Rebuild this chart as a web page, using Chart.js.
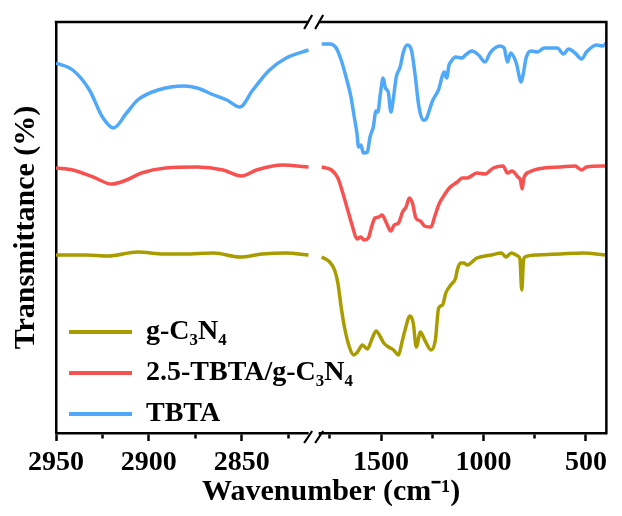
<!DOCTYPE html>
<html><head><meta charset="utf-8">
<script src="https://cdn.jsdelivr.net/npm/chart.js@4.4.1/dist/chart.umd.min.js"></script>
<style>html,body{margin:0;padding:0;background:#fff}</style>
</head><body>
<canvas id="c" width="622" height="516"></canvas>
<script>
// ---- series names / colours
const seriesNames = ['g-C\u2083N\u2084', '2.5-TBTA/g-C\u2083N\u2084', 'TBTA'];
const seriesColors = ['#a89c00', '#f7524f', '#4fa8f8'];

// ---- left segment (2950-2808 cm-1)
const oliveLeftX = [2950, 2934, 2922, 2906, 2892, 2881, 2865, 2851, 2839, 2826, 2814];
const oliveLeftY = [178, 178, 177, 181, 179, 179, 180, 176, 179, 180, 178];
const redLeftX = [2950, 2941, 2930, 2920, 2912, 2904, 2891, 2874, 2860, 2850, 2842, 2828, 2814];
const redLeftY = [265, 263, 256, 249, 253, 260, 265, 266, 263, 257, 263, 268, 266];
const blueLeftX = [2950, 2941, 2932, 2925, 2919, 2912, 2906, 2895, 2881, 2874, 2865, 2858, 2851, 2844, 2835, 2826, 2814];
const blueLeftY = [370, 363, 343, 316, 305, 320, 333, 343, 347, 345, 338, 333, 326, 343, 363, 375, 383];

// ---- right segment (1800-400 cm-1)
const oliveRightX = [1790,1751,1727,1711,1695,1679,1655,1634,1615,1591,1567,1543,1524,1503,1487,1463,1439,1415,1399,1383,1359,1343,1328,1308,1287,1256,1235,1219,1200,1184,1160,1136,1128,1112,1096,1080,1032,960,912,891,864,832,822,813,805,797,736,625,513,401];
const oliveRightY = [176,171,163,150,126,106,86,78,81,88,84,95,102,96,90,86,83,78,90,103,117,110,86,101,93,83,93,125,128,140,148,155,163,170,170,168,175,178,180,176,180,177,174,143,172,176,178,179,180,178];
const redRightX = [1790,1742,1711,1687,1663,1639,1618,1599,1583,1562,1548,1530,1511,1495,1474,1452,1436,1415,1395,1378,1362,1347,1330,1308,1287,1256,1239,1215,1191,1167,1128,1104,1080,1032,992,952,904,883,861,832,820,811,803,776,705,625,553,521,497,401];
const redRightY = [266,263,255,240,223,206,194,196,193,195,205,215,216,218,210,202,208,210,221,226,235,230,215,212,207,206,216,230,238,245,251,255,255,260,259,265,267,260,262,256,253,244,255,261,265,266,267,263,266,267];
const blueRightX = [1790,1751,1719,1695,1671,1647,1631,1618,1610,1599,1586,1567,1554,1538,1525,1516,1503,1490,1479,1465,1452,1439,1426,1407,1391,1372,1352,1335,1315,1295,1287,1247,1220,1191,1180,1168,1160,1136,1104,1088,1056,1024,992,968,920,899,883,867,840,816,805,792,768,736,704,640,609,585,553,521,497,449,417,400];
const blueRightY = [389,389,385,373,356,336,316,300,286,288,280,281,296,306,322,321,340,355,345,341,321,336,356,366,381,388,383,360,326,313,313,333,343,361,355,368,371,376,375,378,382,378,371,380,387,385,371,380,370,351,360,375,382,381,385,385,379,384,380,374,381,388,387,390];

// ---- axes
const leftRange = [2808, 2950];
const rightRange = [400, 1800];
const leftTicks = [2825, 2850, 2875, 2900, 2925, 2950];
const leftLabels = [2850, 2900, 2950];
const rightTicks = [500, 750, 1000, 1250, 1500, 1750];
const rightLabels = [500, 1000, 1500];
const xTitle = 'Wavenumber (cm\u207B\u00B9)';
const yTitle = 'Transmittance (%)';

const FONT = "'Liberation Serif','Times New Roman',serif";
Chart.defaults.font.family = FONT;
Chart.defaults.font.weight = 'bold';
Chart.defaults.color = '#000';

function pts(xs, ys) { return xs.map((x, i) => ({x: x, y: ys[i]})); }

const leftData = [[oliveLeftX, oliveLeftY], [redLeftX, redLeftY], [blueLeftX, blueLeftY]];
const rightData = [[oliveRightX, oliveRightY], [redRightX, redRightY], [blueRightX, blueRightY]];

function makeSet(i, pair, axis) {
  return {
    label: seriesNames[i], data: pts(pair[0], pair[1]), xAxisID: axis, yAxisID: 'y',
    borderColor: seriesColors[i], backgroundColor: seriesColors[i],
    borderWidth: 3.5, pointRadius: 0, cubicInterpolationMode: 'monotone', fill: false
  };
}
const datasets = leftData.map((p, i) => makeSet(i, p, 'xL')).concat(rightData.map((p, i) => makeSet(i, p, 'xR')));

function xAxis(range, ticks, labels, weight) {
  return {
    type: 'linear', position: 'bottom', stack: 'x', stackWeight: weight, reverse: true,
    min: range[0], max: range[1],
    afterBuildTicks: s => { s.ticks = ticks.slice().reverse().map(v => ({value: v})); },
    afterFit: s => { s.height = 37; },
    ticks: { autoSkip: false, maxRotation: 0, padding: 5, font: {size: 28, weight: 'bold'}, color: '#000',
      callback: v => labels.includes(v) ? String(v) : '' },
    grid: { drawOnChartArea: false, drawTicks: true, tickLength: 8, tickWidth: 2.5, tickColor: '#000',
      tickBorderDash: c => (c.tick && labels.includes(c.tick.value)) ? [] : [4, 100] },
    border: { color: '#000', width: 2.5 }
  };
}

// place the in-plot legend at the bottom-left of the plot area
const legendPlace = {
  id: 'legendPlace',
  beforeDraw(chart) {
    const lg = chart.legend, a = chart.chartArea;
    if (lg) { lg.left = a.left; lg.top = a.top; lg.bottom = a.bottom + 8; }
  }
};

const framePlugin = {
  id: 'frame',
  afterDraw(chart) {
    const ctx = chart.ctx, a = chart.chartArea, xL = chart.scales.xL;
    ctx.save();
    ctx.strokeStyle = '#000'; ctx.lineWidth = 2.5;
    ctx.beginPath();
    ctx.moveTo(a.left - 1.25, a.top); ctx.lineTo(a.right + 1.25, a.top);
    ctx.moveTo(a.right, a.top); ctx.lineTo(a.right, a.bottom + 1.25);
    ctx.stroke();
    const bx = xL.right - 6;
    ctx.fillStyle = '#fff';
    ctx.fillRect(bx - 5, a.top - 3, 10, 6);
    ctx.fillRect(bx - 5, a.bottom - 3, 10, 6);
    ctx.lineWidth = 2.2;
    ctx.beginPath();
    [bx - 5.5, bx + 5.5].forEach(x => {
      ctx.moveTo(x - 4, a.top + 7); ctx.lineTo(x + 4, a.top - 7);
      ctx.moveTo(x - 4, a.bottom + 10); ctx.lineTo(x + 4, a.bottom - 2);
    });
    ctx.stroke();
    ctx.restore();
  }
};

new Chart(document.getElementById('c'), {
  type: 'line',
  data: { datasets: datasets },
  options: {
    responsive: false, animation: false, devicePixelRatio: 1,
    layout: { padding: { left: 0, top: 22, right: 5, bottom: 2 } },
    scales: {
      xL: xAxis(leftRange, leftTicks, leftLabels, (leftRange[1] - leftRange[0]) * 1.892),
      xR: xAxis(rightRange, rightTicks, rightLabels, (rightRange[1] - rightRange[0]) * 0.2087),
      y: {
        min: 0, max: 411, ticks: { display: false }, grid: { display: false },
        border: { color: '#000', width: 2.5 },
        title: { display: true, text: yTitle, font: { size: 30, weight: 'bold' }, color: '#000', padding: { top: 8, bottom: 0 } },
        afterFit: s => { s.width = 56; }
      }
    },
    plugins: {
      title: { display: true, position: 'bottom', fullSize: false, text: xTitle,
        font: { size: 30, weight: 'bold' }, color: '#000', padding: { top: 4, bottom: 4 } },
      legend: {
        position: 'chartArea', align: 'end',
        labels: {
          boxWidth: 63, boxHeight: 4, padding: 13, font: { size: 28, weight: 'bold' }, color: '#000',
          filter: item => item.datasetIndex < 3,
          generateLabels: chart => Chart.defaults.plugins.legend.labels.generateLabels(chart).map(l => Object.assign(l, { lineWidth: 0 }))
        }
      },
      tooltip: { enabled: false }
    }
  },
  plugins: [legendPlace, framePlugin]
});
</script>
</body></html>
